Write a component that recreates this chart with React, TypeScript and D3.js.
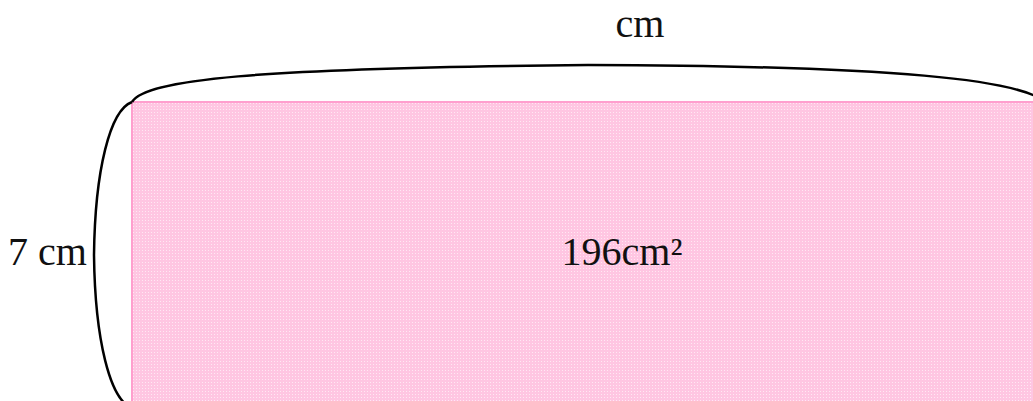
import React, { useEffect, useRef } from 'react';
import * as d3 from 'd3';

const W = 1033;
const H = 401;

// rectangle sides in cm: height is known, width is asked for
const sideNames = ['width', 'height'];
const sideValues = [28, 7];
const sideLabels = ['cm', '7 cm'];
const areaValues = [196];
const areaLabels = ['196cm²'];

const FONT = 'Liberation Serif, Times New Roman, serif';

export default function App() {
  const svgRef = useRef<SVGSVGElement>(null);

  useEffect(() => {
    if (!svgRef.current) return;
    const svg = d3.select(svgRef.current);
    svg.selectAll('*').remove();

    const unit = 306 / sideValues[1];
    const x = d3.scaleLinear().domain([0, sideValues[0]]).range([132, 132 + sideValues[0] * unit]);
    const y = d3.scaleLinear().domain([0, sideValues[1]]).range([102, 102 + sideValues[1] * unit]);

    // dotted pink fill
    const defs = svg.append('defs');
    const pat = defs
      .append('pattern')
      .attr('id', 'dots')
      .attr('width', 3)
      .attr('height', 3)
      .attr('patternUnits', 'userSpaceOnUse');
    pat.append('rect').attr('width', 3).attr('height', 3).attr('fill', '#ffc6e2');
    pat.append('rect').attr('x', 1).attr('y', 1).attr('width', 1).attr('height', 1).attr('fill', '#ffe8f3');

    svg
      .append('rect')
      .attr('x', x(0))
      .attr('y', y(0))
      .attr('width', x(sideValues[0]) - x(0))
      .attr('height', y(sideValues[1]) - y(0))
      .attr('fill', 'url(#dots)')
      .attr('stroke', '#ff9fce')
      .attr('stroke-width', 2);

    // top brace (over the unknown width)
    const top = d3.path();
    const tx0 = x(0);
    const ty = y(0);
    const tmx = 588;
    const tmy = 65;
    const tx1 = 1045;
    top.moveTo(tx0, ty);
    top.bezierCurveTo(tx0 + 13, ty - 22, 250, tmy + 3, tmx, tmy);
    top.bezierCurveTo(900, tmy + 1, 1020, 80, tx1, ty);
    svg
      .append('path')
      .attr('d', top.toString())
      .attr('fill', 'none')
      .attr('stroke', '#000')
      .attr('stroke-width', 2.5);

    // left brace (over the height)
    const left = d3.path();
    const ly0 = y(0);
    const ly1 = y(sideValues[1]);
    const lmx = 94;
    const lmy = (ly0 + ly1) / 2;
    left.moveTo(x(0), ly0);
    left.bezierCurveTo(110, ly0 + 8, 95, 170, lmx, lmy);
    left.bezierCurveTo(95, 340, 110, ly1 - 8, x(0), ly1);
    svg
      .append('path')
      .attr('d', left.toString())
      .attr('fill', 'none')
      .attr('stroke', '#000')
      .attr('stroke-width', 2.5);

    const txt = (s: string, px: number, py: number, anchor: string) =>
      svg
        .append('text')
        .attr('x', px)
        .attr('y', py)
        .attr('text-anchor', anchor)
        .attr('font-family', FONT)
        .attr('font-size', 40)
        .attr('fill', '#111')
        .text(s);

    txt(sideLabels[0], 640, 37, 'middle');
    txt(sideLabels[1], 8, 265, 'start');
    txt(areaLabels[0], 622, 265, 'middle');
    void sideNames;
    void areaValues;
  }, []);

  return (
    <svg
      ref={svgRef}
      width={W}
      height={H}
      style={{ position: 'absolute', left: 0, top: 0, background: '#fff', overflow: 'hidden' }}
    />
  );
}
